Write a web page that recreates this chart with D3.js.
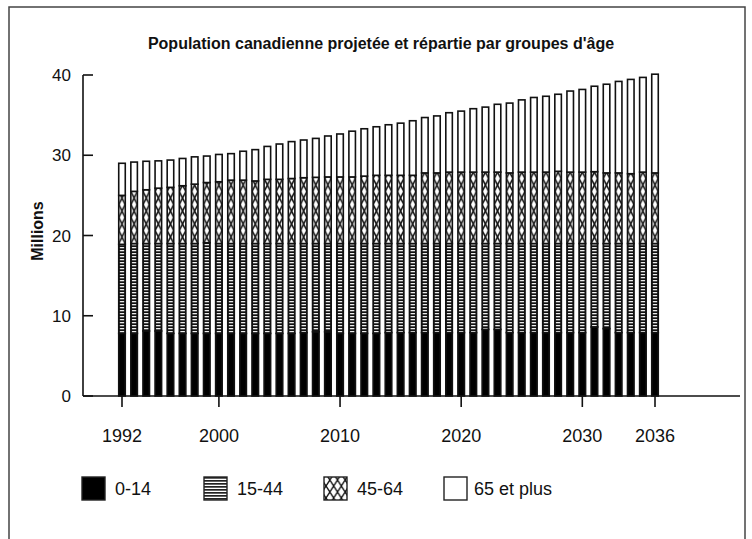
<!DOCTYPE html>
<html>
<head>
<meta charset="utf-8">
<script src="https://cdn.jsdelivr.net/npm/d3@7"></script>
<style>
  body { margin: 0; background: #fff; }
  text { font-family: "Liberation Sans", Arial, sans-serif; fill: #111; }
</style>
</head>
<body>
<div id="chart"></div>
<script>
'use strict';

const width = 752;
const height = 539;

// millions
const years = d3.range(1992, 2037);
const age0_14 = [7.8, 7.8, 8.1, 8.1, 7.8, 7.8, 7.8, 7.8, 7.8, 7.8, 7.8, 7.8, 7.8, 7.8, 7.8, 7.9,
    8.0, 8.0, 7.8, 7.8, 7.8, 7.8, 7.9, 7.9, 7.9, 7.9, 7.9, 7.9, 7.9, 7.9, 8.3, 8.3, 7.9, 7.9,
    7.9, 7.9, 7.9, 7.9, 7.9, 8.6, 8.4, 7.9, 7.9, 7.9, 7.9];
const age15_44 = [11.1, 11.2, 10.9, 10.9, 11.2, 11.2, 11.2, 11.3, 11.2, 11.2, 11.2, 11.2, 11.2,
    11.2, 11.2, 11.1, 11.0, 11.0, 11.2, 11.2, 11.2, 11.2, 11.1, 11.1, 11.1, 11.1, 11.1, 11.1,
    11.1, 11.1, 10.7, 10.7, 11.1, 11.1, 11.1, 11.1, 11.1, 11.1, 11.1, 10.4, 10.6, 11.1, 11.1,
    11.1, 11.1];
const age45_64 = [6.1, 6.5, 6.7, 6.9, 7.0, 7.2, 7.4, 7.5, 7.7, 7.9, 7.9, 7.8, 8.0, 8.0, 8.1, 8.2,
    8.25, 8.3, 8.3, 8.3, 8.4, 8.5, 8.5, 8.5, 8.5, 8.8, 8.8, 8.9, 8.9, 8.9, 8.9, 8.9, 8.8, 8.9,
    8.9, 8.9, 9.0, 8.9, 8.9, 8.95, 8.8, 8.8, 8.7, 8.9, 8.8];
const age65 = [4.0, 3.65, 3.55, 3.4, 3.4, 3.4, 3.4, 3.3, 3.4, 3.3, 3.6, 3.9, 4.1, 4.4, 4.6, 4.7,
    4.85, 5.1, 5.35, 5.7, 5.9, 6.05, 6.3, 6.5, 6.8, 6.9, 7.1, 7.4, 7.6, 7.9, 8.1, 8.45, 8.7,
    9.0, 9.3, 9.45, 9.6, 10.1, 10.3, 10.65, 11.05, 11.4, 11.75, 11.8, 12.3];

const groups = ["0-14", "15-44", "45-64", "65 et plus"];
const yTicks = [0, 10, 20, 30, 40];
const xTickYears = [1992, 2000, 2010, 2020, 2030, 2036];

const rows = years.map((yr, i) => ({
    year: yr,
    "0-14": age0_14[i],
    "15-44": age15_44[i],
    "45-64": age45_64[i],
    "65 et plus": age65[i]
}));

const svg = d3.select("#chart")
    .append("svg")
    .attr("width", width)
    .attr("height", height);

const defs = svg.append("defs");

// frame round the picture
svg.append("rect")
    .attr("x", 9).attr("y", 7)
    .attr("width", 736).attr("height", 545)
    .attr("fill", "none")
    .attr("stroke", "#444")
    .attr("stroke-width", 1.5);

const x = d3.scaleBand()
    .domain(years)
    .range([115.94, 661.06])
    .paddingInner(0.46)
    .paddingOuter(0.23);

const y = d3.scaleLinear()
    .domain([0, 40])
    .range([396, 75]);

const bw = x.bandwidth();

// striped fill for 15-44
const stripes = defs.append("pattern")
    .attr("id", "stripes")
    .attr("patternUnits", "userSpaceOnUse")
    .attr("x", x(years[0])).attr("y", 0)
    .attr("width", x.step()).attr("height", 3);
stripes.append("rect").attr("width", x.step()).attr("height", 3).attr("fill", "#111");
stripes.append("rect")
    .attr("x", 1).attr("y", 1)
    .attr("width", bw - 2).attr("height", 1.3)
    .attr("fill", "#eee");

// diamond lattice for 45-64
const hatchH = 13;
const hatch = defs.append("pattern")
    .attr("id", "hatch")
    .attr("patternUnits", "userSpaceOnUse")
    .attr("x", x(years[0])).attr("y", y(19))
    .attr("width", x.step()).attr("height", hatchH);
hatch.append("rect").attr("width", x.step()).attr("height", hatchH).attr("fill", "#fff");
hatch.append("path")
    .attr("d", `M0,0L${bw},${hatchH}M${bw},0L0,${hatchH}`)
    .attr("stroke", "#111")
    .attr("stroke-width", 1.6)
    .attr("fill", "none");

const fills = {
    "0-14": "#000",
    "15-44": "url(#stripes)",
    "45-64": "url(#hatch)",
    "65 et plus": "#fff"
};

const stacked = d3.stack().keys(groups)(rows);

svg.append("g")
    .selectAll("g")
    .data(stacked)
    .join("g")
    .attr("fill", d => fills[d.key])
    .selectAll("rect")
    .data(d => d)
    .join("rect")
    .attr("x", d => x(d.data.year))
    .attr("y", d => y(d[1]))
    .attr("width", bw)
    .attr("height", d => y(d[0]) - y(d[1]))
    .attr("stroke", "#111")
    .attr("stroke-width", 1.6);

// y axis
const axisColor = "#111";
svg.append("line")
    .attr("x1", 83).attr("x2", 83)
    .attr("y1", y(40)).attr("y2", y(0))
    .attr("stroke", axisColor).attr("stroke-width", 1.6);
svg.append("g")
    .selectAll("line")
    .data(yTicks)
    .join("line")
    .attr("x1", 83).attr("x2", 93)
    .attr("y1", d => y(d)).attr("y2", d => y(d))
    .attr("stroke", axisColor).attr("stroke-width", 1.6);
svg.append("g")
    .selectAll("text")
    .data(yTicks)
    .join("text")
    .attr("x", 71)
    .attr("y", d => y(d) + 6)
    .attr("text-anchor", "end")
    .attr("font-size", 17)
    .text(d => d);

// x axis
svg.append("line")
    .attr("x1", 83).attr("x2", 740)
    .attr("y1", y(0)).attr("y2", y(0))
    .attr("stroke", axisColor).attr("stroke-width", 1.6);
const xCenter = d => x(d) + bw / 2;
svg.append("g")
    .selectAll("line")
    .data(xTickYears)
    .join("line")
    .attr("x1", xCenter).attr("x2", xCenter)
    .attr("y1", y(0)).attr("y2", y(0) + 11)
    .attr("stroke", axisColor).attr("stroke-width", 1.6);
svg.append("g")
    .selectAll("text")
    .data(xTickYears)
    .join("text")
    .attr("x", xCenter)
    .attr("y", 442)
    .attr("text-anchor", "middle")
    .attr("font-size", 18)
    .text(d => d);

// titles
svg.append("text")
    .attr("x", 381).attr("y", 49)
    .attr("text-anchor", "middle")
    .attr("font-size", 16)
    .attr("font-weight", "bold")
    .text("Population canadienne projetée et répartie par groupes d'âge");

svg.append("text")
    .attr("transform", "translate(43,231) rotate(-90)")
    .attr("text-anchor", "middle")
    .attr("font-size", 16)
    .attr("font-weight", "bold")
    .text("Millions");

// legend
const legendX = [82, 204, 324, 444];
const legendY = 477;
const sw = 23;

const lgStripes = defs.append("pattern")
    .attr("id", "lg-stripes")
    .attr("patternUnits", "userSpaceOnUse")
    .attr("x", 0).attr("y", legendY)
    .attr("width", 40).attr("height", 3);
lgStripes.append("rect").attr("width", 40).attr("height", 3).attr("fill", "#fff");
lgStripes.append("rect").attr("width", 40).attr("height", 1.7).attr("fill", "#222");

const lgHatch = defs.append("pattern")
    .attr("id", "lg-hatch")
    .attr("patternUnits", "userSpaceOnUse")
    .attr("x", legendX[2]).attr("y", legendY)
    .attr("width", sw / 3).attr("height", 12);
lgHatch.append("rect").attr("width", sw / 3).attr("height", 12).attr("fill", "#fff");
lgHatch.append("path")
    .attr("d", `M0,0L${sw / 3},12M${sw / 3},0L0,12`)
    .attr("stroke", "#111").attr("stroke-width", 1.4).attr("fill", "none");

const legendFills = ["#000", "url(#lg-stripes)", "url(#lg-hatch)", "#fff"];

const legend = svg.append("g")
    .selectAll("g")
    .data(groups)
    .join("g")
    .attr("transform", (d, i) => `translate(${legendX[i]},${legendY})`);
legend.append("rect")
    .attr("width", sw).attr("height", 23)
    .attr("fill", (d, i) => legendFills[i])
    .attr("stroke", "#222")
    .attr("stroke-width", 1.4);
legend.append("text")
    .attr("x", (d, i) => i === 3 ? 30 : 33)
    .attr("y", 18)
    .attr("font-size", 18)
    .attr("fill", (d, i) => i === 3 ? "#333" : "#111")
    .text(d => d);
</script>
</body>
</html>
